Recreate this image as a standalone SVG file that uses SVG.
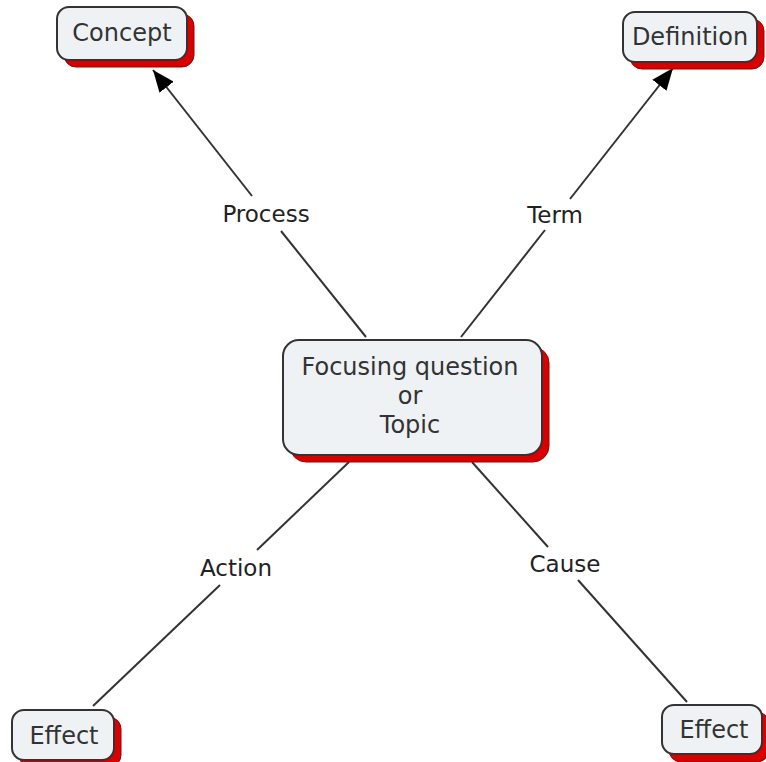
<svg xmlns="http://www.w3.org/2000/svg" width="766" height="762" viewBox="0 0 766 762">
<style>
.shadow{fill:#d80000;stroke:#a00000;stroke-width:1}
.box{fill:#eef2f5;stroke:#333;stroke-width:2}
.t{font-family:"DejaVu Sans",Verdana,sans-serif;font-size:24px;fill:#333;text-anchor:middle}
.lbl{font-family:"DejaVu Sans",Verdana,sans-serif;font-size:23px;fill:#222;text-anchor:middle}
.ln{stroke:#333;stroke-width:2;fill:none}
</style>
<defs>
<marker id="arr" markerUnits="userSpaceOnUse" markerWidth="24" markerHeight="18" refX="22" refY="9" orient="auto">
<path d="M0,0 L22,9 L0,18 z" fill="#000"/>
</marker>
</defs>
<rect width="766" height="762" fill="#fff"/>
<g id="connectors">
<line class="ln" x1="366" y1="337" x2="281" y2="231"/>
<line class="ln" x1="252" y1="196" x2="153" y2="70" marker-end="url(#arr)"/>
<text class="lbl" x="266" y="222">Process</text>
<line class="ln" x1="461" y1="337" x2="545" y2="230"/>
<line class="ln" x1="570" y1="199" x2="673" y2="68" marker-end="url(#arr)"/>
<text class="lbl" x="555" y="223">Term</text>
<line class="ln" x1="349" y1="462" x2="257" y2="550"/>
<line class="ln" x1="220" y1="585" x2="93" y2="706"/>
<text class="lbl" x="236" y="576">Action</text>
<line class="ln" x1="472" y1="462" x2="548" y2="547"/>
<line class="ln" x1="578" y1="580" x2="687" y2="702"/>
<text class="lbl" x="565" y="572">Cause</text>
</g>
<g id="concept">
<rect class="shadow" x="64" y="14" width="130" height="53" rx="12"/>
<rect class="box" x="57" y="7" width="130" height="53" rx="12"/>
<text class="t" x="122" y="41">Concept</text>
</g>
<g id="definition">
<rect class="shadow" x="630" y="19" width="134" height="50" rx="12"/>
<rect class="box" x="623" y="12" width="134" height="50" rx="12"/>
<text class="t" x="690" y="45">Definition</text>
</g>
<g id="topic">
<rect class="shadow" x="290" y="347" width="259" height="115" rx="16"/>
<rect class="box" x="283" y="340" width="259" height="115" rx="16"/>
<text class="t" x="410" y="375">Focusing question</text>
<text class="t" x="410" y="404">or</text>
<text class="t" x="410" y="433">Topic</text>
</g>
<g id="effect-left">
<rect class="shadow" x="19" y="717" width="102" height="50" rx="12"/>
<rect class="box" x="12" y="710" width="102" height="50" rx="12"/>
<text class="t" x="64" y="744">Effect</text>
</g>
<g id="effect-right">
<rect class="shadow" x="669" y="712" width="100" height="50" rx="12"/>
<rect class="box" x="662" y="705" width="100" height="49" rx="12"/>
<text class="t" x="714" y="738">Effect</text>
</g>
</svg>
